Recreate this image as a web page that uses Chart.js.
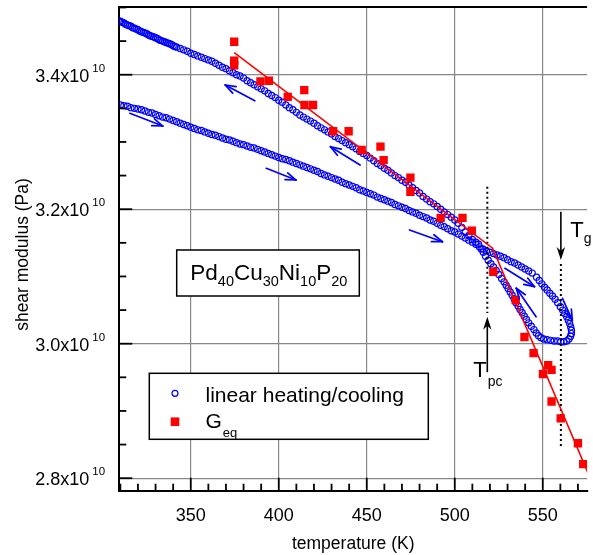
<!DOCTYPE html>
<html><head><meta charset="utf-8">
<script src="https://cdn.jsdelivr.net/npm/chart.js@4/dist/chart.umd.min.js"></script>
<style>html,body{margin:0;padding:0;background:#fff;}canvas{display:block;}</style>
</head><body>
<canvas id="c" width="593" height="555"></canvas>
<script>
// Shear modulus values in units of 10^10 Pa, temperatures in K
const heatTemp = [310,312,314,316,318,320,322,324,326,328,330,332,334,336,338,340,342,344,346,348,350,352,354,356,358,360,362,364,366,368,370,372,374,376,378,380,382,384,386,388,390,392,394,396,398,400,402,404,406,408,410,412,414,416,418,420,422,424,426,428,430,432,434,436,438,440,442,444,446,448,450,452,454,456,458,460,462,464,466,468,470,472,474,476,478,480,482,484,486,488,490,492,494,496,498,500,502,504,506,508,510,512,514,516,518,520,522,524,526,528,530,532,534,536,538,540,542,544,
  546.5,548,549.5,551,552.5,554,555.5,557,558.5,560,561.3,562.5,563.6,564.5,565.3,565.9,566.3,566.3,565.8,564.9,563.6,562.0];
const heatModulus = [3.355,3.354,3.353,3.351,3.350,3.349,3.348,3.346,3.344,3.343,3.341,3.339,3.337,3.336,3.334,3.332,3.330,3.328,3.326,3.324,3.322,3.320,3.318,3.317,3.315,3.313,3.311,3.310,3.308,3.306,3.304,3.303,3.301,3.299,3.297,3.296,3.294,3.292,3.291,3.289,3.287,3.285,3.283,3.281,3.279,3.277,3.275,3.274,3.272,3.270,3.268,3.266,3.264,3.262,3.260,3.258,3.256,3.253,3.251,3.249,3.247,3.245,3.243,3.240,3.238,3.236,3.234,3.232,3.229,3.227,3.225,3.223,3.221,3.218,3.216,3.214,3.212,3.210,3.207,3.205,3.203,3.201,3.198,3.196,3.194,3.191,3.189,3.187,3.184,3.182,3.179,3.176,3.174,3.171,3.168,3.166,3.163,3.160,3.157,3.154,3.151,3.148,3.144,3.141,3.138,3.136,3.134,3.132,3.130,3.128,3.125,3.122,3.120,3.117,3.114,3.111,3.108,3.105,
  3.099,3.094,3.089,3.084,3.080,3.075,3.071,3.066,3.061,3.055,3.050,3.045,3.040,3.035,3.030,3.025,3.020,3.015,3.011,3.007,3.004,3.003];
const coolTemp = [560.3,558.5,556.5,554.5,552.5,550.5,549,547.6,546.3,545,543.5,542,540.7,539.5,538.3,537.1,536,534.8,533.7,532.6,531.5,530.3,529.2,528,526.6,525,523.5,522,520.5,519,517.5,516.2,515,513.5,512,510,508,506,504,502,500,498,496,494,492,490,488,486,484,482,480,478,476,474,472,470,468,466,464,462,460,458,456,454,452,450,448,446,444,442,440,438,436,434,432,430,428,426,424,422,420,418,416,414,412,410,408,406,404,402,400,398,396,394,392,390,388,386,384,382,380,378,376,374,372,370,368,366,364,362,360,358,356,354,352,350,348,346,344,342,341,340,339,338,337,336,335,334,333,332,331,330,329,328,327,326,325,324,323,322,321,320,319,318,317,316,315,314,313,312,311,310,309.6];
const coolModulus = [3.003,3.004,3.004,3.005,3.006,3.007,3.009,3.012,3.016,3.021,3.026,3.031,3.036,3.041,3.046,3.051,3.056,3.061,3.067,3.072,3.077,3.082,3.087,3.092,3.097,3.103,3.109,3.114,3.119,3.124,3.130,3.136,3.141,3.148,3.151,3.155,3.161,3.166,3.173,3.179,3.184,3.188,3.192,3.196,3.200,3.204,3.208,3.211,3.215,3.219,3.224,3.228,3.232,3.236,3.240,3.243,3.247,3.250,3.254,3.258,3.261,3.265,3.268,3.272,3.276,3.280,3.283,3.286,3.290,3.293,3.296,3.299,3.302,3.305,3.308,3.312,3.315,3.318,3.321,3.324,3.328,3.331,3.334,3.337,3.340,3.344,3.348,3.351,3.355,3.359,3.362,3.366,3.369,3.372,3.376,3.379,3.382,3.385,3.388,3.391,3.395,3.398,3.400,3.403,3.406,3.409,3.411,3.414,3.417,3.420,3.422,3.424,3.426,3.428,3.430,3.432,3.435,3.437,3.439,3.441,3.442,3.443,3.445,3.446,3.447,3.448,3.449,3.450,3.451,3.452,3.454,3.455,3.456,3.457,3.458,3.459,3.461,3.462,3.463,3.464,3.465,3.467,3.468,3.469,3.470,3.472,3.473,3.474,3.475,3.477,3.478,3.479,3.480];
const geqTemp = [374.7,374.7,374.7,389.6,394.4,405.1,414.5,414.6,419.5,430.9,439.7,447.1,457.8,459.6,474.8,474.8,492.0,504.4,509.7,521.9,534.6,539.6,544.8,553.1,555.0,550.1,555.0,560.2,570.0,573.0];
const geqModulus = [3.449,3.421,3.414,3.390,3.391,3.367,3.377,3.355,3.355,3.316,3.316,3.288,3.293,3.273,3.247,3.226,3.187,3.187,3.168,3.107,3.065,3.010,2.986,2.968,2.961,2.955,2.914,2.889,2.852,2.821];
const fitTemp = [374.7,521.5,576];
const fitModulus = [3.433,3.142,2.806];
const tpcTemp = [518.5,518.5], tpcModulus = [3.2335,3.0457];
const tgTemp = [560.3,560.3], tgModulus = [3.1185,2.8445];

const xMajor = [350,400,450,500,550];
const xTickLabels = ['350','400','450','500','550'];
const yMajor = [2.8,3.0,3.2,3.4];
const yTickLabels = ['2.8x10','3.0x10','3.2x10','3.4x10'];
const yExponent = '10';

// annotation arrows (data coords): [t1,g1,t2,g2], head at second point
const flowArrows = [
  [315.4,3.3426,334.1,3.3237],
  [386.4,3.3613,369.6,3.3847],
  [392.9,3.2608,409.8,3.2434],
  [446.2,3.2657,429.4,3.2929],
  [474.3,3.1691,493.0,3.1517],
  [528.5,3.1121,545.3,3.0848],
  [546.2,3.0401,535.0,3.0824],
  [561.2,3.0675,566.8,3.0352]
];
const markerArrows = [
  [518.5,2.9576,518.5,3.0401],
  [560.3,3.1963,560.3,3.1245]
];

const zip = (a,b) => a.map((v,i)=>({x:v,y:b[i]}));
const FONT = '"Liberation Sans", Arial, sans-serif';
const BLUE = '#0000ff', RED = '#ff0000';

function seg(ctx,x1,y1,x2,y2){ctx.beginPath();ctx.moveTo(x1,y1);ctx.lineTo(x2,y2);ctx.stroke();}

const overlay = {
  id:'overlay',
  afterDraw(chart){
    const ctx = chart.ctx, xs = chart.scales.x, ys = chart.scales.y, a = chart.chartArea;
    const X = v=>xs.getPixelForValue(v), Y = v=>ys.getPixelForValue(v);
    ctx.save();
    // top frame
    ctx.strokeStyle='#000'; ctx.lineWidth=2;
    seg(ctx,a.left,a.top,a.right,a.top);
    // inward ticks
    ctx.lineWidth=1.8;
    for(let v=310; v<=575; v+=10){ const px=X(v); const len=(v%50===0)?13:7; seg(ctx,px,a.bottom,px,a.bottom-len); }
    for(let k=0;k<=14;k++){ const v=2.8+k*0.05; const py=Y(v); const len=(k%4===0)?13:7; seg(ctx,a.left,py,a.left+len,py); }
    // x tick labels
    ctx.fillStyle='#000';
    ctx.font='18px '+FONT; ctx.textAlign='center'; ctx.textBaseline='alphabetic';
    xMajor.forEach((v,i)=>ctx.fillText(xTickLabels[i],X(v),a.bottom+30));
    // y tick labels with exponent
    yMajor.forEach((v,i)=>{
      const py=Y(v);
      ctx.font='18px '+FONT; ctx.textAlign='right';
      ctx.fillText(yTickLabels[i],a.left-30,py+7);
      ctx.font='11.5px '+FONT; ctx.textAlign='left';
      ctx.fillText(yExponent,a.left-27,py-3);
    });
    // axis titles
    ctx.font='17.5px '+FONT; ctx.textAlign='center';
    ctx.fillText('temperature (K)',(a.left+a.right)/2,548.5);
    ctx.save(); ctx.translate(27.5,254.5); ctx.rotate(-Math.PI/2);
    ctx.fillText('shear modulus (Pa)',0,0); ctx.restore();

    // composition box
    ctx.fillStyle='#fff'; ctx.fillRect(176.7,250,182.6,46);
    ctx.strokeStyle='#000'; ctx.lineWidth=1.5; ctx.strokeRect(176.7,250,182.6,46);
    ctx.fillStyle='#000'; ctx.textAlign='left';
    let cx=190.3;
    [['Pd',0],['40',1],['Cu',0],['30',1],['Ni',0],['10',1],['P',0],['20',1]].forEach(([s,sub])=>{
      ctx.font=(sub?'14.5px ':'22.5px ')+FONT;
      ctx.fillText(s,cx,sub?285.5:279.5);
      cx+=ctx.measureText(s).width;
    });

    // legend box
    ctx.fillStyle='#fff'; ctx.fillRect(149.3,373.3,279,66);
    ctx.strokeStyle='#000'; ctx.lineWidth=1.5; ctx.strokeRect(149.3,373.3,279,66);
    ctx.strokeStyle=BLUE; ctx.lineWidth=1.2;
    ctx.beginPath(); ctx.arc(175,393.3,3,0,Math.PI*2); ctx.stroke();
    ctx.fillStyle=RED; ctx.fillRect(170.7,417.4,8.6,8.6);
    ctx.fillStyle='#000'; ctx.font='21px '+FONT;
    ctx.fillText('linear heating/cooling',205.5,402);
    ctx.fillText('G',205.5,428);
    const gw=ctx.measureText('G').width;
    ctx.font='13px '+FONT; ctx.fillText('eq',205.5+gw+1,436.5);

    // T labels
    ctx.font='22px '+FONT;
    let tx=X(510.5), ty=Y(2.9505);
    ctx.fillText('T',tx,ty); let tw=ctx.measureText('T').width;
    ctx.font='14px '+FONT; ctx.fillText('pc',tx+tw+1,ty+9);
    ctx.font='22px '+FONT;
    tx=X(565.6); ty=Y(3.1591);
    ctx.fillText('T',tx,ty); tw=ctx.measureText('T').width;
    ctx.font='14px '+FONT; ctx.fillText('g',tx+tw,ty+6);

    // black marker arrows
    ctx.strokeStyle='#000'; ctx.fillStyle='#000'; ctx.lineWidth=1.6;
    markerArrows.forEach(([t1,g1,t2,g2])=>{
      const x1=X(t1),y1=Y(g1),x2=X(t2),y2=Y(g2);
      const th=Math.atan2(y2-y1,x2-x1);
      const L=13, W=4.2, N=9;
      const bx=x2-L*Math.cos(th), by=y2-L*Math.sin(th);
      seg(ctx,x1,y1,x2-N*Math.cos(th),y2-N*Math.sin(th));
      ctx.beginPath();
      ctx.moveTo(x2,y2);
      ctx.lineTo(bx+W*Math.sin(th),by-W*Math.cos(th));
      ctx.lineTo(x2-N*Math.cos(th),y2-N*Math.sin(th));
      ctx.lineTo(bx-W*Math.sin(th),by+W*Math.cos(th));
      ctx.closePath(); ctx.fill();
    });
    // blue flow arrows
    ctx.strokeStyle=BLUE; ctx.lineWidth=1.7; ctx.lineCap='round';
    flowArrows.forEach(([t1,g1,t2,g2])=>{
      const x1=X(t1),y1=Y(g1),x2=X(t2),y2=Y(g2);
      const th=Math.atan2(y2-y1,x2-x1), L=11, ang=0.34;
      seg(ctx,x1,y1,x2,y2);
      seg(ctx,x2,y2,x2-L*Math.cos(th-ang),y2-L*Math.sin(th-ang));
      seg(ctx,x2,y2,x2-L*Math.cos(th+ang),y2-L*Math.sin(th+ang));
    });
    ctx.restore();
  }
};

new Chart(document.getElementById('c'),{
  type:'scatter',
  data:{datasets:[
    {label:'Geq',data:zip(geqTemp,geqModulus),pointStyle:'rect',pointRadius:5.9,backgroundColor:RED,borderWidth:0},
    {label:'fit',data:zip(fitTemp,fitModulus),showLine:true,pointRadius:0,borderColor:RED,borderWidth:1.6},
    {label:'Tpc',data:zip(tpcTemp,tpcModulus),showLine:true,pointRadius:0,borderColor:'#000',borderWidth:2,borderDash:[2,3]},
    {label:'Tg',data:zip(tgTemp,tgModulus),showLine:true,pointRadius:0,borderColor:'#000',borderWidth:2,borderDash:[2,3]},
    {label:'heating',data:zip(heatTemp,heatModulus),pointStyle:'circle',pointRadius:3.1,borderColor:BLUE,borderWidth:1.2,backgroundColor:'rgba(0,0,0,0)'},
    {label:'cooling',data:zip(coolTemp,coolModulus),pointStyle:'circle',pointRadius:3.1,borderColor:BLUE,borderWidth:1.2,backgroundColor:'rgba(0,0,0,0)'}
  ]},
  options:{
    responsive:false, animation:false, devicePixelRatio:1, events:[],
    layout:{padding:{left:119.3,right:0,top:7,bottom:64.3}},
    plugins:{legend:{display:false},tooltip:{enabled:false}},
    scales:{
      x:{type:'linear',min:309.4,max:575.2,
        grid:{color:'#888',lineWidth:1.2,drawTicks:false},
        border:{display:true,color:'#000',width:2},
        ticks:{display:false},
        afterBuildTicks:s=>{s.ticks=xMajor.map(v=>({value:v}));}},
      y:{type:'linear',min:2.7814,max:3.5007,
        grid:{color:'#888',lineWidth:1.2,drawTicks:false},
        border:{display:true,color:'#000',width:2},
        ticks:{display:false},
        afterBuildTicks:s=>{s.ticks=yMajor.map(v=>({value:v}));}}
    }
  },
  plugins:[overlay]
});
</script>
</body></html>
